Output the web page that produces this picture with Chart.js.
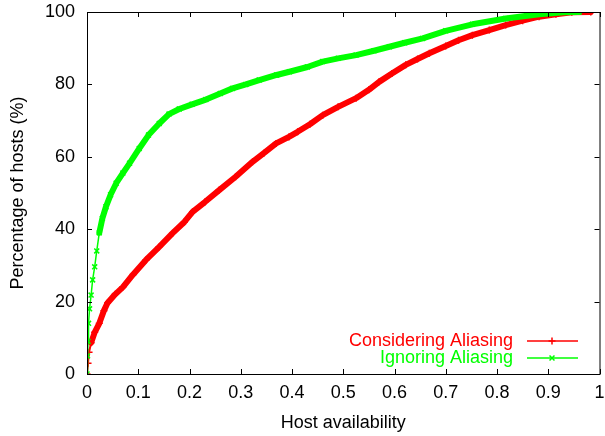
<!DOCTYPE html>
<html>
<head>
<meta charset="utf-8">
<script src="https://cdn.jsdelivr.net/npm/chart.js@4.4.1/dist/chart.umd.min.js"></script>
<style>
  html,body{margin:0;padding:0;background:#fff;}
  #wrap{width:605px;height:436px;}
</style>
</head>
<body>
<div id="wrap"><canvas id="c" width="605" height="436"></canvas></div>
<script>
// values (host availability -> cumulative % of hosts)
const consX=[0,0.002,0.004,0.008,0.015,0.024,0.033,0.04,0.055,0.07,0.09,0.115,0.14,0.167,0.19,0.206,0.23,0.258,0.29,0.323,0.345,0.369,0.394,0.411,0.435,0.46,0.49,0.525,0.55,0.57,0.595,0.622,0.645,0.668,0.7,0.725,0.752,0.785,0.817,0.85,0.882,0.915,0.946,0.983];
const consY=[0,3,6,8.6,11.5,14,17.5,19.6,22,24,27.5,31.5,35,38.9,42,44.8,47.5,50.8,54.5,58.6,61,63.7,65.5,66.9,69,71.5,73.8,76.2,78.5,80.7,83,85.4,87,88.6,90.6,92.2,93.6,95,96.4,97.6,98.7,99.4,99.9,100];
const ignX=[0,0.001,0.002,0.003,0.005,0.008,0.011,0.015,0.019,0.024,0.03,0.037,0.046,0.057,0.07,0.083,0.102,0.12,0.141,0.16,0.18,0.205,0.232,0.26,0.284,0.31,0.336,0.37,0.395,0.43,0.46,0.49,0.525,0.56,0.59,0.62,0.655,0.7,0.752,0.817,0.882,0.93,0.96];
const ignY=[0,5,9,14,18,21.8,26,29.6,34,39,43,46.2,49.5,52.7,55.5,58.2,62.3,66,69.2,71.8,73.2,74.5,75.8,77.5,78.9,80,81.2,82.6,83.5,84.8,86.3,87.2,88.1,89.3,90.4,91.5,92.7,94.8,96.6,98.2,99.4,99.9,100];
const xTicks=[0,0.1,0.2,0.3,0.4,0.5,0.6,0.7,0.8,0.9,1];
const yTicks=[0,20,40,60,80,100];
const seriesNames=['Considering Aliasing','Ignoring Aliasing'];
const RED='#ff0000', GREEN='#00ff00';
const FONT='"Liberation Sans", Arial, Helvetica, sans-serif';

const pts=(xs,ys)=>xs.map((x,i)=>({x:x,y:ys[i]}));

// frame with inward ticks on all four sides (gnuplot look)
const framePlugin={
  id:'frame',
  afterDraw(chart){
    const {ctx,chartArea:a,scales}=chart;
    ctx.save();
    ctx.strokeStyle='#000'; ctx.lineWidth=1;
    ctx.strokeRect(a.left+0.5,a.top+0.5,a.right-a.left,a.bottom-a.top);
    const L=5;
    ctx.beginPath();
    xTicks.forEach(v=>{
      const px=Math.round(scales.x.getPixelForValue(v))+0.5;
      ctx.moveTo(px,a.bottom); ctx.lineTo(px,a.bottom-L);
      ctx.moveTo(px,a.top); ctx.lineTo(px,a.top+L);
    });
    yTicks.forEach(v=>{
      const py=Math.round(scales.y.getPixelForValue(v))+0.5;
      ctx.moveTo(a.left,py); ctx.lineTo(a.left+L,py);
      ctx.moveTo(a.right,py); ctx.lineTo(a.right-L,py);
    });
    ctx.stroke();

    // key, bottom right inside the plot
    ctx.font='18px '+FONT;
    ctx.textAlign='right'; ctx.textBaseline='middle';
    const rows=[[seriesNames[0],RED,'cross',341],[seriesNames[1],GREEN,'crossRot',358]];
    rows.forEach(r=>{
      ctx.fillStyle=r[1]; ctx.fillText(r[0],513,r[3]);
      ctx.strokeStyle=r[1]; ctx.lineWidth=1.5;
      ctx.beginPath(); ctx.moveTo(527,r[3]); ctx.lineTo(578,r[3]); ctx.stroke();
      Chart.helpers.drawPoint(ctx,{pointStyle:r[2],radius:3.5,borderWidth:1.5},552,r[3]);
    });
    ctx.restore();
  }
};

new Chart(document.getElementById('c'),{
  type:'line',
  data:{datasets:[
    {label:seriesNames[0],data:pts(consX,consY),borderColor:RED,backgroundColor:RED,
     borderWidth:6,borderCapStyle:'round',borderJoinStyle:'round',
     pointStyle:'cross',pointRadius:3.5,pointBorderWidth:1.5,pointBorderColor:RED,
     segment:{borderWidth:c=>c.p1.parsed.x<=0.008?2:6},
     tension:0,order:1},
    {label:seriesNames[1],data:pts(ignX,ignY),borderColor:GREEN,backgroundColor:GREEN,
     borderWidth:6,borderCapStyle:'round',borderJoinStyle:'round',
     pointStyle:'crossRot',pointRadius:3.5,pointBorderWidth:1.5,pointBorderColor:GREEN,
     segment:{borderWidth:c=>c.p1.parsed.x<=0.024?1.5:6},
     tension:0,order:0}
  ]},
  options:{
    responsive:false,animation:false,
    layout:{padding:0},
    plugins:{legend:{display:false},tooltip:{enabled:false}},
    scales:{
      x:{type:'linear',min:0,max:1,
        afterFit:s=>{s.height=62;s.paddingLeft=0;s.paddingRight=5;},
        afterBuildTicks:s=>{s.ticks=xTicks.map(v=>({value:v}));},
        grid:{display:false,drawTicks:false},border:{display:false},
        ticks:{color:'#000',font:{family:FONT,size:18},padding:8,maxRotation:0,
          callback:v=>String(v)},
        title:{display:true,text:'Host availability',color:'#000',font:{family:FONT,size:18},padding:{top:0,bottom:2}}},
      y:{min:0,max:100,
        afterFit:s=>{s.width=87;s.paddingTop=12;s.paddingBottom=0;},
        afterBuildTicks:s=>{s.ticks=yTicks.map(v=>({value:v}));},
        grid:{display:false,drawTicks:false},border:{display:false},
        ticks:{color:'#000',font:{family:FONT,size:18},padding:12},
        title:{display:true,text:'Percentage of hosts (%)',color:'#000',font:{family:FONT,size:18},padding:{top:7,bottom:0}}}
    }
  },
  plugins:[framePlugin]
});
</script>
</body>
</html>
